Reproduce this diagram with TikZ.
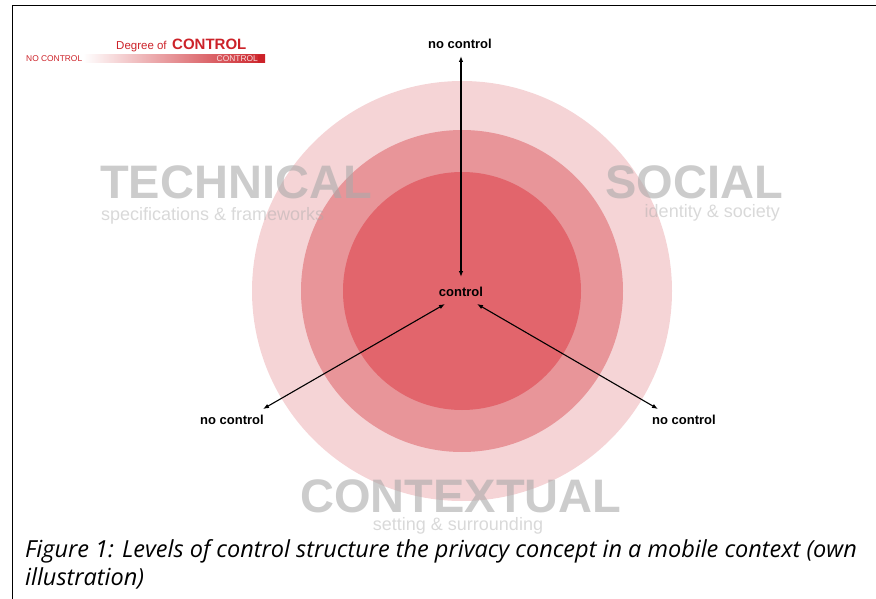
\documentclass[tikz,border=0pt]{standalone}
\usepackage{fontspec}
\usetikzlibrary{arrows.meta}
\newfontfamily\arialf{Liberation Sans}
\newfontfamily\capf{Open Sans}
\definecolor{ringA}{RGB}{245,212,214}
\definecolor{ringB}{RGB}{232,149,153}
\definecolor{ringC}{RGB}{226,101,108}
\definecolor{legred}{RGB}{204,34,41}
\definecolor{biggray}{RGB}{170,170,170}
\tikzset{
  bigword/.style={inner sep=0pt, text=biggray, text opacity=0.6, font=\arialf\bfseries\fontsize{47}{50}\selectfont},
  subword/.style={inner sep=0pt, text=biggray, text opacity=0.45, font=\arialf\fontsize{18}{20}\selectfont},
  lbl/.style={inner sep=0pt, font=\arialf\bfseries\fontsize{13}{15}\selectfont},
  dbl/.style={line width=1.1pt, {Latex[length=6pt,width=4.5pt]}-{Latex[length=6pt,width=4.5pt]}},
}
\begin{document}
\begin{tikzpicture}[x=1pt,y=-1pt]
\useasboundingbox (0,0) rectangle (876,599);
% frame
\draw[line width=1pt] (12,599) -- (12,6) -- (876,6);
% rings
\fill[ringA] (462,291) circle (210);
\fill[ringB] (462,291) circle (161);
\fill[ringC] (462,291) circle (119);
% big labels
\node[bigword, anchor=base west] (tech) at (100,198) {TECHNICAL};
\node[subword, anchor=base west] (techs) at (101,220) {specifications \& frameworks};
\node[bigword, anchor=base east] (soc) at (783,198) {SOCIAL};
\node[subword, anchor=base east] (socs) at (780,217) {identity \& society};
\node[bigword, anchor=base] (ctx) at (461,512) {CONTEXTUAL};
\node[subword, anchor=base] (ctxs) at (458,530) {setting \& surrounding};
% control labels
\node[lbl] (ctl) at (461,292) {control};
\node[lbl] (ntop) at (460,44) {no control};
\node[lbl] (nleft) at (232,420) {no control};
\node[lbl] (nright) at (684,420) {no control};
\coordinate (c1) at (461,277);
\coordinate (t1) at (461,56);
\coordinate (c2) at (445,304);
\coordinate (l1) at (263,409);
\coordinate (c3) at (477,304);
\coordinate (r1) at (658,409);
\draw[dbl] (c1) -- (t1);
\draw[dbl] (c2) -- (l1);
\draw[dbl] (c3) -- (r1);
% legend
\shade[left color=white, right color=legred, shading angle=90] (83,55) rectangle (265,63);
\fill[legred] (258,55) rectangle (265,63);
\node[inner sep=0pt, anchor=base west, text=legred, font=\arialf\fontsize{11.5}{13}\selectfont] (deg) at (116,50) {Degree of};
\node[inner sep=0pt, anchor=base west, text=legred, font=\arialf\bfseries\fontsize{15}{17}\selectfont] (ctrl) at (172,50) {CONTROL};
\node[inner sep=0pt, anchor=base west, text=legred, font=\arialf\fontsize{8.4}{9}\selectfont] (noc) at (26,62) {NO CONTROL};
\node[inner sep=0pt, anchor=base east, text=white!85!legred, font=\arialf\fontsize{8.4}{9}\selectfont] (cin) at (258,62) {CONTROL};
% caption
\node[inner sep=0pt, anchor=base west, align=left, font=\capf\itshape\fontsize{23.5}{28}\selectfont] (cap) at (25,585) {Figure 1: Levels of control structure the privacy concept in a mobile context (own\\illustration)};
\end{tikzpicture}
\end{document}
